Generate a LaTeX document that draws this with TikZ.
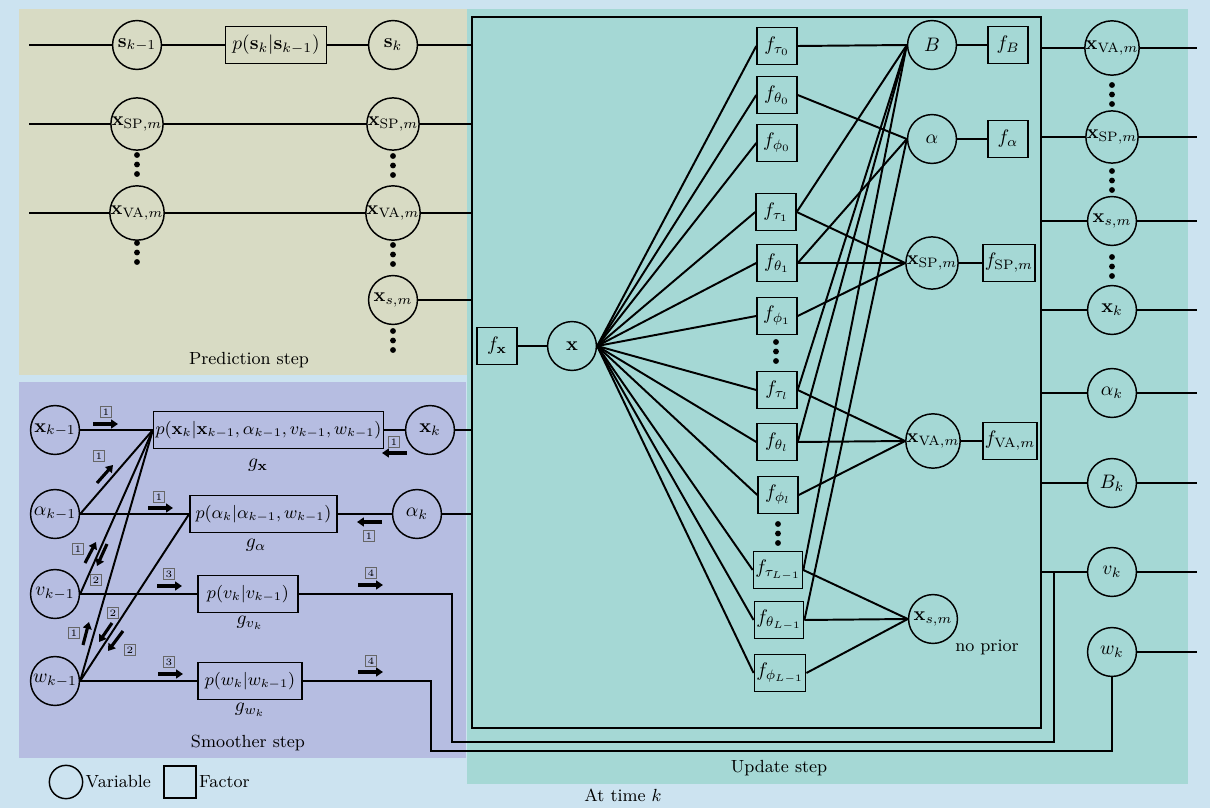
\documentclass[tikz,border=0pt]{standalone}
\usepackage{amsmath}
\usetikzlibrary{arrows.meta}
\definecolor{bgblue}{RGB}{204,227,240}
\definecolor{predcol}{RGB}{216,219,196}
\definecolor{smoocol}{RGB}{182,189,225}
\definecolor{updcol}{RGB}{165,216,213}
\newcommand{\vdts}[2]{\foreach \d in {0,9.5,19} \fill (#1,#2+\d) circle(1.5pt);}
\tikzset{
  var/.style={draw,circle,line width=0.75pt,minimum size=0.88cm,inner sep=0pt},
  fac/.style={draw,rectangle,line width=0.75pt,minimum width=0.72cm,minimum height=0.67cm,inner sep=1pt},
  edge/.style={line width=1pt},
  msg/.style={line width=1.6pt,-{Triangle[length=3.5pt,width=4.5pt]}},
  tag/.style={draw=black!60,line width=0.4pt,inner sep=0pt,minimum size=0.19cm,font=\tiny},
  lbl/.style={font=\small}
}
\begin{document}
\begin{tikzpicture}[x=0.018cm,y=-0.018cm]
 \useasboundingbox (0,0) rectangle (1210,808);
 \fill[bgblue] (0,0) rectangle (1210,808);
 \fill[predcol] (19,9) rectangle (467,375);
 \fill[smoocol] (19,382) rectangle (466,758);
 \fill[updcol] (467,9) rectangle (1188,784);
 \draw[line width=0.75pt] (472,17) rectangle (1041,728);
 \coordinate (inL) at (472,17);
 \coordinate (inR) at (1041,17);
 \coordinate (lft) at (29,0);
 \coordinate (rgt) at (1197,0);

 % prediction step
 \node[var] (sp) at (137,45) {$\mathbf{s}_{k-1}$};
 \node[fac,minimum width=1.82cm] (fs) at (276,45) {$p(\mathbf{s}_k|\mathbf{s}_{k-1})$};
 \node[var] (sk) at (393,45) {$\mathbf{s}_k$};
 \node[var] (psp0) at (137,124) {$\mathbf{x}_{\mathrm{SP},m}$};
 \node[var] (psp1) at (393,124) {$\mathbf{x}_{\mathrm{SP},m}$};
 \node[var] (pva0) at (137,213) {$\mathbf{x}_{\mathrm{VA},m}$};
 \node[var] (pva1) at (393,213) {$\mathbf{x}_{\mathrm{VA},m}$};
 \node[var] (ps1) at (393,300) {$\mathbf{x}_{s,m}$};
 \draw[edge] (sp -| lft) -- (sp) -- (fs) -- (sk) -- (sk -| inL);
 \draw[edge] (psp0 -| lft) -- (psp0) -- (psp1) -- (psp1 -| inL);
 \draw[edge] (pva0 -| lft) -- (pva0) -- (pva1) -- (pva1 -| inL);
 \draw[edge] (ps1) -- (ps1 -| inL);
 \vdts{137}{155} \vdts{393}{156}
 \vdts{137}{243} \vdts{393}{245}
 \vdts{393}{331}
 \node[lbl] at (249,360) {Prediction step};

 % smoother step
 \node[var] (xm) at (55,430) {$\mathbf{x}_{k-1}$};
 \node[var] (am) at (55,514) {$\alpha_{k-1}$};
 \node[var] (vm) at (55,594) {$v_{k-1}$};
 \node[var] (wm) at (55,681) {$w_{k-1}$};
 \node[fac,font=\small,minimum width=4.09cm] (gx) at (268.5,430) {$p(\mathbf{x}_k|\mathbf{x}_{k-1},\alpha_{k-1},v_{k-1},w_{k-1})$};
 \node (gxl) at (258,465) {$g_{\mathbf{x}}$};
 \node[var] (xk) at (430,430) {$\mathbf{x}_k$};
 \node[fac,font=\small,minimum width=2.65cm] (ga) at (263.5,514) {$p(\alpha_k|\alpha_{k-1},w_{k-1})$};
 \node (gal) at (256,545) {$g_\alpha$};
 \node[var] (ak) at (417,514) {$\alpha_k$};
 \node[fac,font=\small,minimum width=1.8cm] (gv) at (248,594) {$p(v_k|v_{k-1})$};
 \node (gvl) at (250,623) {$g_{v_k}$};
 \node[fac,font=\small,minimum width=1.87cm] (gw) at (250,681) {$p(w_k|w_{k-1})$};
 \node (gwl) at (250,710) {$g_{w_k}$};
 \draw[edge] (xm) -- (gx) -- (xk) -- (xk -| inL);
 \draw[edge] (am.east) -- (gx.west);
 \draw[edge] (vm.east) -- (gx.west);
 \draw[edge] (wm.east) -- (gx.west);
 \draw[edge] (wm.east) -- (ga.west);
 \draw[edge] (am) -- (ga) -- (ak) -- (ak -| inL);
 \draw[edge] (vm) -- (gv);
 \draw[edge] (wm) -- (gw);
 \foreach \ax/\ay/\bx/\by/\tx/\ty/\n in {
   93/424/118/424/106/412/1, 97/483/113/465/99/456/1,
   148/508/173/508/159/497/1, 382/522/357/522/369/536/1,
   407/453/382/453/394/442/1, 85/563/96/542/78/549/1,
   107/544/97/566/96/580/2, 83/645/89/622/74/633/1,
   112/623/99/642/113/613/2, 123/631/108/651/130/650/2,
   157/586/182/586/169/574/3, 158/674/183/674/169/662/3,
   358/585/383/585/371/573/4, 358/672/383/672/371/661/4} {
   \draw[msg] (\ax,\ay) -- (\bx,\by);
   \node[tag] at (\tx,\ty) {\n};
 }
 \node[lbl] at (248,743) {Smoother step};

 % update step
 \node[fac] (fx) at (497,346) {$f_{\mathbf{x}}$};
 \node[var] (xx) at (572,346) {$\mathbf{x}$};
 \draw[edge] (fx) -- (xx);
 \node[fac] (ft0) at (777,46) {$f_{\tau_0}$};
 \node[fac] (fh0) at (777,95) {$f_{\theta_0}$};
 \node[fac] (fp0) at (777,143) {$f_{\phi_0}$};
 \node[fac] (ft1) at (776,212) {$f_{\tau_1}$};
 \node[fac] (fh1) at (777,263) {$f_{\theta_1}$};
 \node[fac] (fp1) at (777,316) {$f_{\phi_1}$};
 \node[fac] (ftl) at (777,390) {$f_{\tau_l}$};
 \node[fac] (fhl) at (777,442) {$f_{\theta_l}$};
 \node[fac] (fpl) at (778,495) {$f_{\phi_l}$};
 \node[fac] (ftL) at (778,570) {$f_{\tau_{L-1}}$};
 \node[fac] (fhL) at (779,620) {$f_{\theta_{L-1}}$};
 \node[fac] (fpL) at (780,673) {$f_{\phi_{L-1}}$};
 \vdts{776}{342} \vdts{778}{524}
 \foreach \n in {ft0,fh0,fp0,ft1,fh1,fp1,ftl,fhl,fpl,ftL,fhL,fpL}
   \draw[edge] (xx.east) -- (\n.west);
 \node[var] (bb) at (932,45) {$B$};
 \node[fac] (fb) at (1008,45) {$f_B$};
 \node[var] (al) at (932,139) {$\alpha$};
 \node[fac] (fa) at (1008,139) {$f_\alpha$};
 \node[var] (usp) at (932,263) {$\mathbf{x}_{\mathrm{SP},m}$};
 \node[fac] (fsp) at (1009,263) {$f_{\mathrm{SP},m}$};
 \node[var] (uva) at (933,441) {$\mathbf{x}_{\mathrm{VA},m}$};
 \node[fac] (fva) at (1010,441) {$f_{\mathrm{VA},m}$};
 \node[var] (us) at (933,619) {$\mathbf{x}_{s,m}$};
 \draw[edge] (bb) -- (fb);
 \draw[edge] (al) -- (fa);
 \draw[edge] (usp) -- (fsp);
 \draw[edge] (uva) -- (fva);
 \foreach \a/\b in {ft0/bb,ft1/bb,ftl/bb,fhl/bb,ftL/bb,fh0/al,fh1/al,fhL/al,
   ft1/usp,fh1/usp,fp1/usp,ftl/uva,fhl/uva,fpl/uva,ftL/us,fhL/us,fpL/us}
   \draw[edge] (\a.east) -- (\b.west);
 \node[lbl] at (987,647) {no prior};
 \node[lbl] at (779,768) {Update step};

 % right column
 \node[var] (rva) at (1112,48) {$\mathbf{x}_{\mathrm{VA},m}$};
 \node[var] (rsp) at (1112,137) {$\mathbf{x}_{\mathrm{SP},m}$};
 \node[var] (rs) at (1112,221) {$\mathbf{x}_{s,m}$};
 \node[var] (rxk) at (1112,310) {$\mathbf{x}_k$};
 \node[var] (rak) at (1112,393) {$\alpha_k$};
 \node[var] (rbk) at (1112,483) {$B_k$};
 \node[var] (rvk) at (1112,572) {$v_k$};
 \node[var] (rwk) at (1112,652) {$w_k$};
 \vdts{1112}{85} \vdts{1112}{171} \vdts{1112}{257}
 \foreach \n in {rva,rsp,rs,rxk,rak,rbk,rvk}
   \draw[edge] (\n -| inR) -- (\n) -- (\n -| rgt);
 \draw[edge] (rwk) -- (rwk -| rgt);
 \coordinate (vj) at (1054,572);
 \draw[edge] (gv.east) -| (452,742) -| (vj) -- (rvk);
 \draw[edge] (gw.east) -| (431,751) -| (rwk.south);

 % legend
 \node[var,minimum size=0.6cm] (lv) at (66,782) {};
 \node[lbl,anchor=west,inner sep=1pt] at (lv.east) {Variable};
 \node[fac,minimum width=0.58cm,minimum height=0.58cm] (lf) at (180,782) {};
 \node[lbl,anchor=west,inner sep=1pt] at (lf.east) {Factor};
 \node[lbl] at (623,795) {At time $k$};
\end{tikzpicture}
\end{document}
